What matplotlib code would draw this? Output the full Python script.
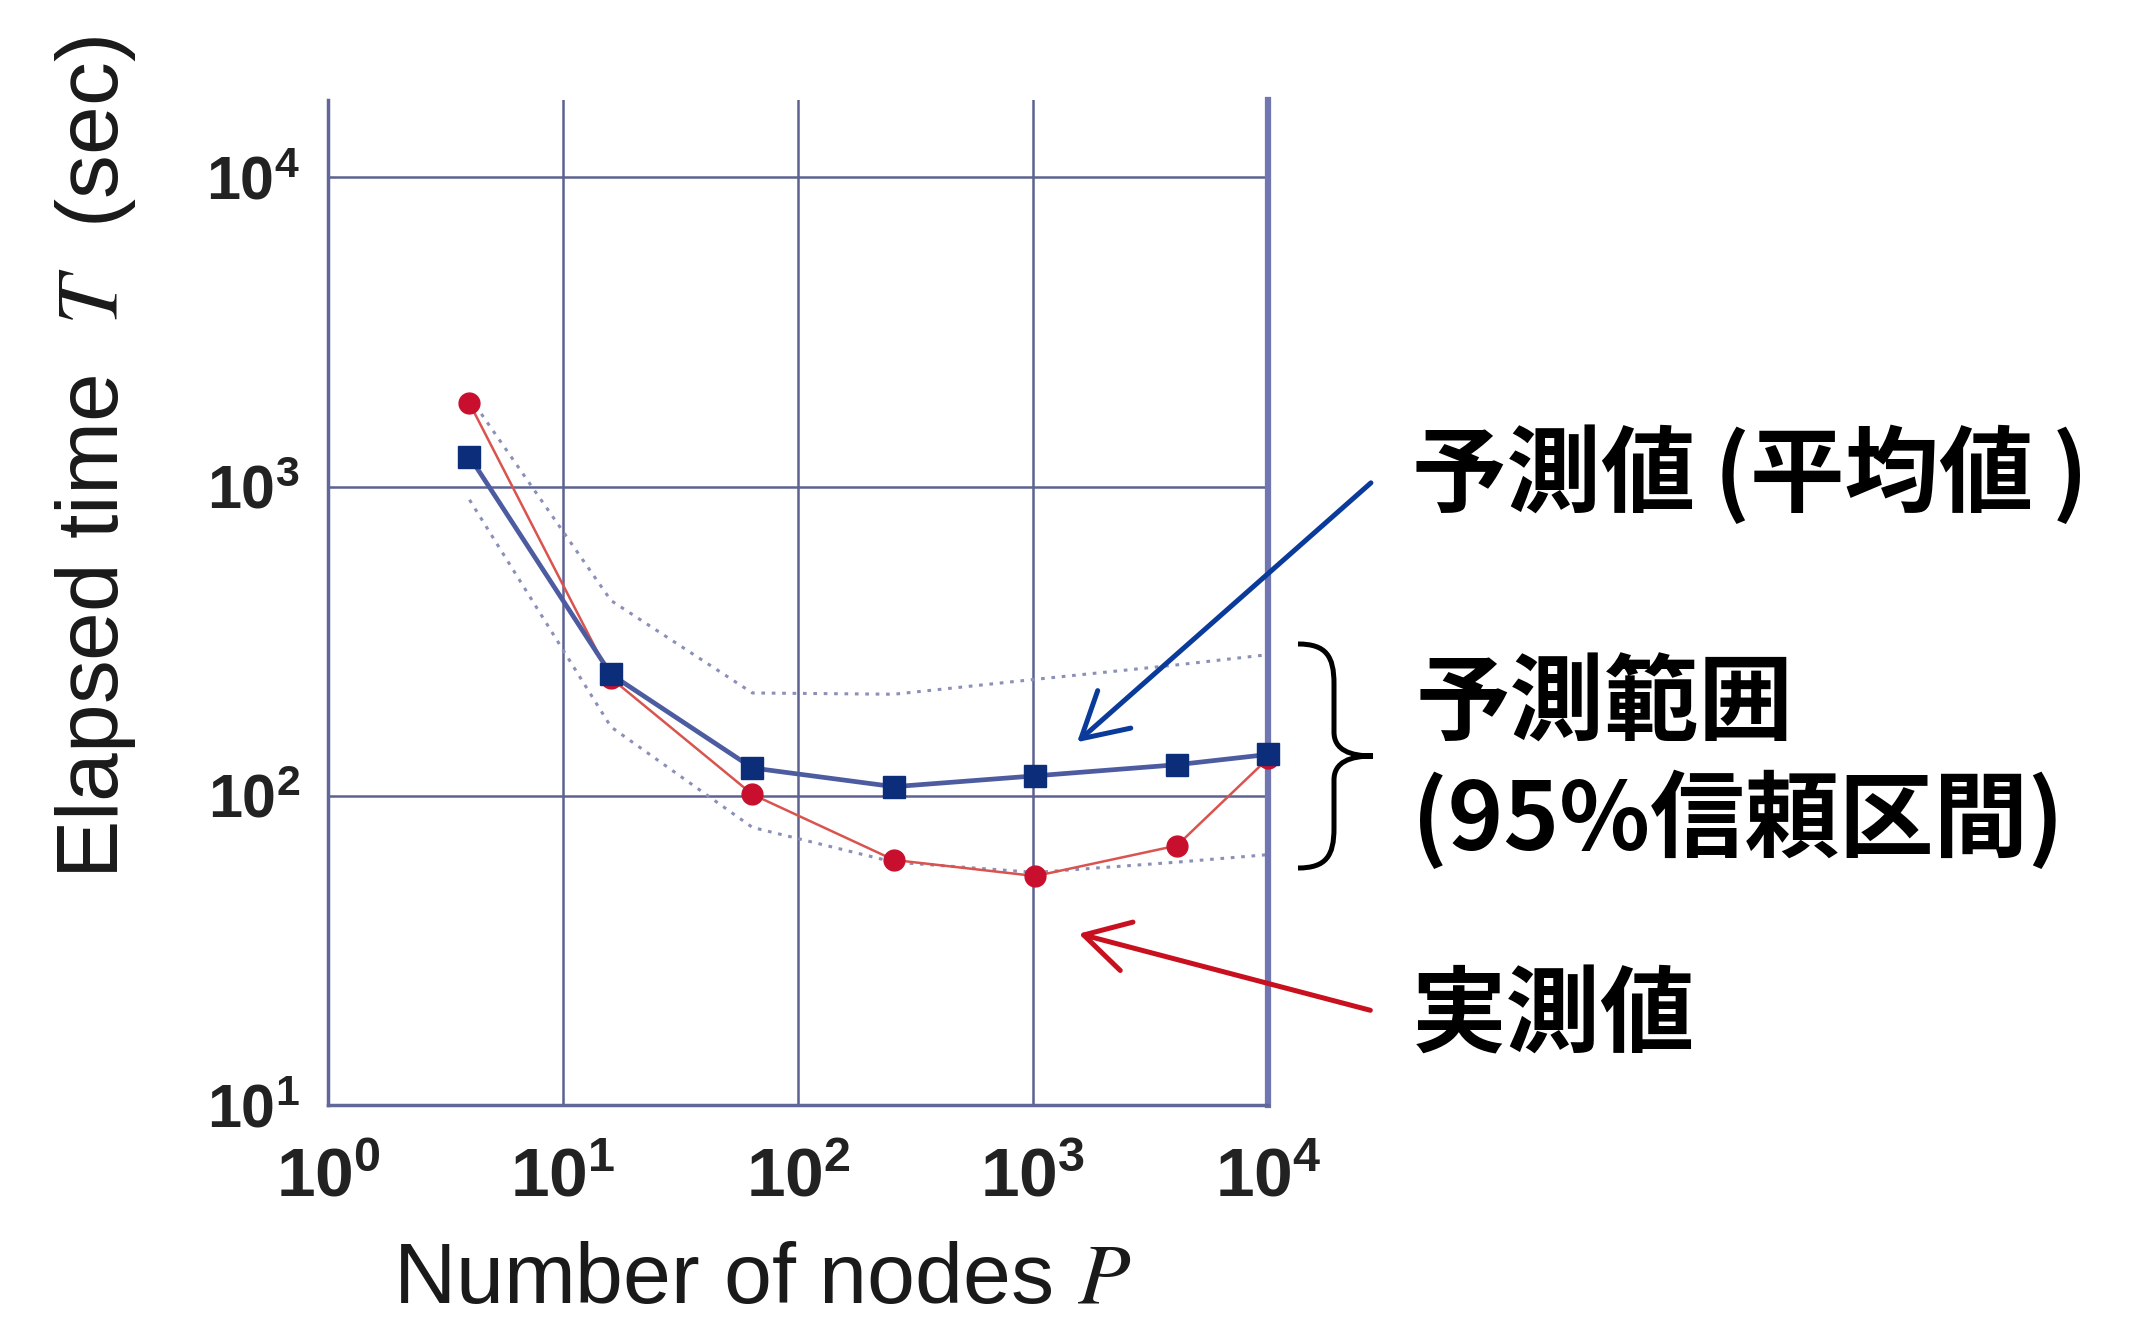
import matplotlib
matplotlib.use('Agg')

import matplotlib.pyplot as plt
from matplotlib.path import Path
from matplotlib.patches import PathPatch, FancyArrowPatch

# data
nodes = [4, 16, 64, 256, 1024, 4096, 10000]
predicted = [1250, 247, 123, 107, 116, 126, 136]
measured = [1860, 240, 101, 62, 55, 69, 132]
upper_95 = [1950, 428, 215, 213, 238, 265, 286]
lower_95 = [906, 167, 79, 61, 56.5, 61, 64.5]

xticks = [1, 10, 100, 1000, 10000]
yticks = [10, 100, 1000, 10000]

label_mean = "予測値\u2009(平均値\u2009)"
label_range1 = "予測範囲"
label_range2 = "(95%信頼区間)"
label_meas = "実測値"

plt.rcParams['font.family'] = ['Liberation Sans', 'DejaVu Sans']
plt.rcParams['mathtext.fontset'] = 'stix'

W, H = 2142, 1330
fig = plt.figure(figsize=(W / 100, H / 100), dpi=100)
fig.patch.set_facecolor('white')


def fpos(x, y):
    # pixel position in the picture -> figure fraction
    return (x / W, 1 - y / H)


ax = fig.add_axes([328 / W, 1 - 1105 / H, (1268 - 328) / W, (1105 - 100) / H])
ax.set_xscale('log')
ax.set_yscale('log')
ax.set_xlim(1, 10000)
ax.set_ylim(10, 10 ** 4.25)
ax.set_xticks(xticks)
ax.set_yticks(yticks)
ax.minorticks_off()

grid_col = '#5d6290'
ax.grid(True, color=grid_col, linewidth=1.8)
ax.set_axisbelow(True)
ax.spines['top'].set_visible(False)
for s in ['left', 'bottom']:
    ax.spines[s].set_color('#62679a')
    ax.spines[s].set_linewidth(2.5)
ax.spines['right'].set_color('#6f76b0')
ax.spines['right'].set_linewidth(4.5)

ax.tick_params(axis='both', direction='in', length=6, color=grid_col, colors='#222222')
ax.tick_params(axis='x', labelsize=50, pad=30)
ax.tick_params(axis='y', labelsize=44, pad=20)
for lbl in ax.get_xticklabels() + ax.get_yticklabels():
    lbl.set_fontweight('bold')

# 95% band
ax.plot(nodes, upper_95, color='#8a90b8', linewidth=2.2, linestyle=(0, (1.2, 2.2)))
ax.plot(nodes, lower_95, color='#8a90b8', linewidth=2.2, linestyle=(0, (1.2, 2.2)))

ax.plot(nodes, measured, color='#d9534f', linewidth=1.8, marker='o', markersize=15,
        markerfacecolor='#c8102e', markeredgecolor='#c8102e', clip_on=False, zorder=3)
ax.plot(nodes, predicted, color='#4d5ca0', linewidth=3.4, marker='s', markersize=16,
        markerfacecolor='#0b2d7a', markeredgecolor='#0b2d7a', clip_on=False, zorder=4)

fig.text(*fpos(96, 458), 'Elapsed time  $T$  (sec)', rotation=90, fontsize=63,
         ha='center', va='center', color='#1a1a1a')
fig.text(*fpos(762, 1281), 'Number of nodes $P$', fontsize=62,
         ha='center', va='center', color='#1a1a1a')

jp = dict(fontsize=68, fontweight='bold', family=['Noto Sans CJK JP', 'DejaVu Sans'],
          ha='left', va='center', color='black')
fig.text(*fpos(1412, 475), label_mean, **jp)
fig.text(*fpos(1416, 706), label_range1, **jp)
fig.text(*fpos(1412, 820), label_range2, **jp)
fig.text(*fpos(1412, 1018), label_meas, **jp)

# curly brace
pts = [(1298, 644), (1326, 644), (1334, 656), (1334, 684),
       (1334, 732), (1334, 750), (1350, 756), (1373, 756),
       (1350, 756), (1334, 762), (1334, 780),
       (1334, 828), (1334, 856), (1326, 868), (1298, 868)]
codes = [Path.MOVETO, Path.CURVE4, Path.CURVE4, Path.CURVE4,
         Path.LINETO, Path.CURVE4, Path.CURVE4, Path.CURVE4,
         Path.CURVE4, Path.CURVE4, Path.CURVE4,
         Path.LINETO, Path.CURVE4, Path.CURVE4, Path.CURVE4]
brace = Path([fpos(x, y) for x, y in pts], codes)
fig.add_artist(PathPatch(brace, transform=fig.transFigure, facecolor='none',
                         edgecolor='black', linewidth=3.6))

# arrows
fig.add_artist(FancyArrowPatch(fpos(1373, 481), fpos(1075, 744), transform=fig.transFigure,
                               arrowstyle='->,head_length=0.8,head_width=0.45',
                               mutation_scale=40, color='#0a3a9a', linewidth=3.6))
fig.add_artist(FancyArrowPatch(fpos(1373, 1011), fpos(1076, 933), transform=fig.transFigure,
                               arrowstyle='->,head_length=0.8,head_width=0.45',
                               mutation_scale=40, color='#c8101e', linewidth=3.6))

plt.savefig('out.png', dpi=100)
